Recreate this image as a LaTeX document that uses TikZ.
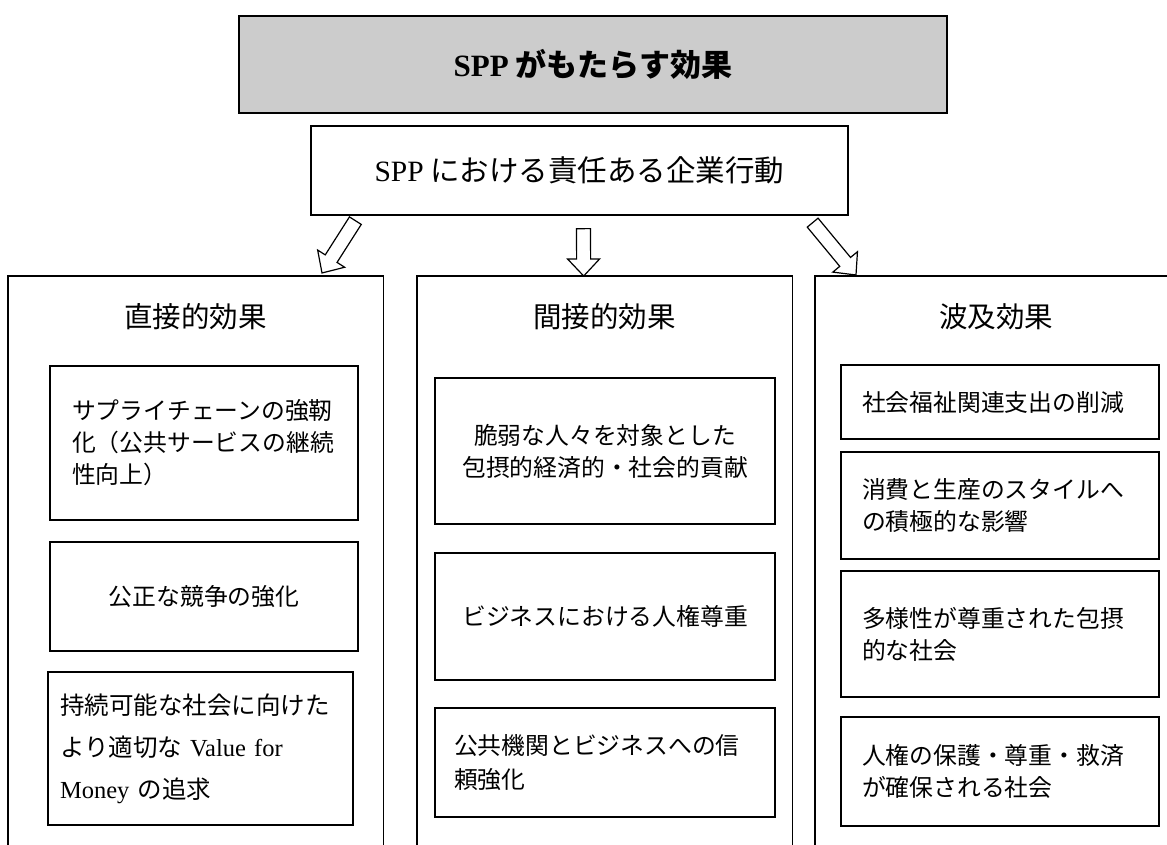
\documentclass[tikz,border=0pt]{standalone}
\usepackage{fontspec}
\setmainfont{Liberation Serif}
\newfontfamily\cjk{Noto Sans CJK JP}
\usetikzlibrary{calc}
\definecolor{titlegray}{RGB}{204,204,204}
\newcommand\lat[1]{{\rmfamily #1}}
\tikzset{
  box/.style={draw, line width=1.3pt, inner ysep=0pt, font=\fontsize{23.8}{32}\selectfont\cjk},
  lbox/.style={box, align=left},
  cbox/.style={box, align=center},
  outer/.style={anchor=north west, minimum height=620pt, inner sep=0pt},
  edge/.style={line width=1.3pt},
  head/.style={font=\fontsize{28.5}{34}\selectfont\cjk},
  blockarrow/.style={draw, fill=white, line width=1.2pt, line join=miter},
}
\newcommand\fatarrow[2]{%
  \path let \p1=($(#2)-(#1)$) in \pgfextra{%
    \pgfmathsetmacro\fatang{atan2(\y1,\x1)}%
    \pgfmathsetmacro\fatlen{veclen(\x1,\y1)}%
    \global\let\fatang\fatang \global\let\fatlen\fatlen};
  \begin{scope}[shift={(#1)}, rotate=\fatang]
    \draw[blockarrow] (0,-7) -- (\fatlen-17,-7) -- (\fatlen-17,-16) -- (\fatlen,0)
      -- (\fatlen-17,16) -- (\fatlen-17,7) -- (0,7) -- cycle;
  \end{scope}}
\begin{document}
\begin{tikzpicture}[x=1pt,y=-1pt]
\useasboundingbox (0,0) rectangle (1167,844);
\clip (0,0) rectangle (1167,844);

% title and subtitle
\node[box, fill=titlegray, minimum width=708pt, minimum height=97pt,
  font=\fontsize{31}{36}\selectfont\cjk\bfseries] (title) at (593,64.5) {\lat{SPP} がもたらす効果};
\node[box, minimum width=537pt, minimum height=89pt,
  font=\fontsize{29.5}{34}\selectfont\cjk] (sub) at (579.5,170.5) {\lat{SPP} における責任ある企業行動};

% outer columns (open at the bottom)
\node[outer, minimum width=375pt] (lo) at (8,276) {};
\node[outer, minimum width=375pt] (mo) at (417,276) {};
\node[outer, minimum width=362pt] (ro) at (815,276) {};
\draw[edge] (lo.south west) -- (lo.north west) -- (lo.north east) -- (lo.south east);
\draw[edge] (mo.south west) -- (mo.north west) -- (mo.north east) -- (mo.south east);
\draw[edge] (ro.south west) -- (ro.north west) -- (ro.north east);

% headings
\node[head] (lh) at ($(lo.north)+(0,41)$) {直接的効果};
\node[head] (mh) at ($(mo.north)+(0,41)$) {間接的効果};
\node[head] (rh) at ($(ro.north)+(0,41)$) {波及効果};

% left column
\node[lbox, text width=264pt, inner xsep=22pt, minimum width=308pt, minimum height=154pt]
  (l1) at (204,443) {サプライチェーンの強靭\\化（公共サービスの継続\\性向上）};
\node[cbox, minimum width=308pt, minimum height=109pt] (l2) at (204,596.5) {公正な競争の強化};
\node[lbox, text width=281pt, inner xsep=12pt, minimum width=305pt, minimum height=153pt,
  font=\fontsize{24.5}{42}\selectfont\cjk]
  (l3) at (200.5,748.5) {持続可能な社会に向けた\\より適切な \lat{Value for}\\\lat{Money} の追求};

% middle column
\node[cbox, minimum width=340pt, minimum height=146pt] (m1) at (605,451)
  {脆弱な人々を対象とした\\包摂的経済的・社会的貢献};
\node[cbox, minimum width=340pt, minimum height=127pt] (m2) at (605,616.5) {ビジネスにおける人権尊重};
\node[lbox, text width=302pt, inner xsep=19pt, minimum width=340pt, minimum height=109pt,
  font=\fontsize{23.8}{34}\selectfont\cjk] (m3) at (605,762.5) {公共機関とビジネスへの信\\頼強化};

% right column
\node[lbox, text width=276pt, inner xsep=21pt, minimum width=318pt, minimum height=74pt]
  (r1) at (1000,402) {社会福祉関連支出の削減};
\node[lbox, text width=276pt, inner xsep=21pt, minimum width=318pt, minimum height=107pt]
  (r2) at (1000,505.5) {消費と生産のスタイルへ\\の積極的な影響};
\node[lbox, text width=276pt, inner xsep=21pt, minimum width=318pt, minimum height=126pt]
  (r3) at (1000,634) {多様性が尊重された包摂\\的な社会};
\node[lbox, text width=276pt, inner xsep=21pt, minimum width=318pt, minimum height=109pt]
  (r4) at (1000,771.5) {人権の保護・尊重・救済\\が確保される社会};

% block arrows
\coordinate (aLs) at ($(sub.south west)+(45,5)$);
\coordinate (aLe) at ($(lo.north west)+(314,-3)$);
\coordinate (aMs) at ($(sub.south)+(4,13)$);
\coordinate (aMe) at ($(mo.north)+(-21,0)$);
\coordinate (aRs) at ($(sub.south east)+(-36,7)$);
\coordinate (aRe) at ($(ro.north west)+(41,-1)$);
\fatarrow{aLs}{aLe}
\fatarrow{aMs}{aMe}
\fatarrow{aRs}{aRe}
\end{tikzpicture}
\end{document}
